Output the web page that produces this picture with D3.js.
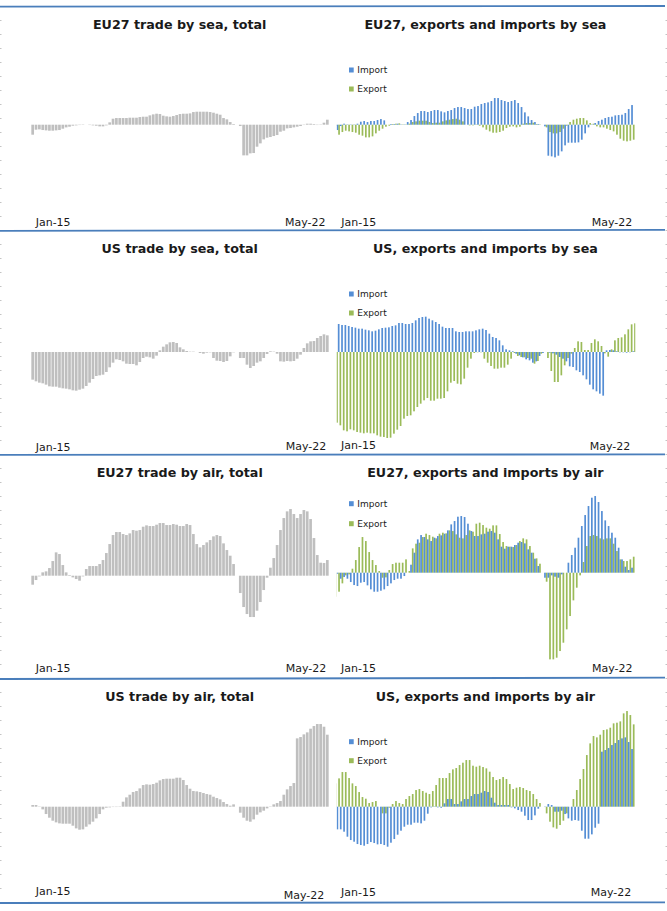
<!DOCTYPE html>
<html>
<head>
<meta charset="utf-8">
<script src="https://cdn.jsdelivr.net/npm/d3@7"></script>
<style>
body { margin: 0; background: #fff; }
svg { display: block; }
text { font-family: "DejaVu Sans", Verdana, sans-serif; }
</style>
</head>
<body>
<svg></svg>
<script>
const width = 667;
const height = 911;

const tickLabels = ['Jan-15', 'May-22'];
const legendLabels = ['Import', 'Export'];

const euSeaTotal = [
    -30, -15, -14, -16, -17, -18, -18, -17, -16, -12, -8, -6,
    -3, -2, -1, 1, 0, -1, -2, -3, -5, -5, -2, 7,
    18, 20, 20, 20, 20, 21, 21, 21, 23, 24, 24, 28,
    31, 33, 32, 27, 25, 24, 26, 29, 32, 33, 33, 34,
    38, 39, 39, 39, 39, 38, 36, 33, 30, 20, 16, 8,
    2, 0, -4, -92, -92, -86, -85, -66, -56, -44, -39, -37,
    -34, -31, -21, -18, -11, -10, -8, -6, -4, -1, 3, 3,
    2, -1, 1, 6, 15
];
const euSeaImport = [
    -16, -4, 3, 1, -1, -1, 3, 9, 11, 8, 11, 11,
    14, 17, 13, 0, 2, 2, 3, 1, 1, 8, 14, 26,
    35, 41, 41, 38, 41, 44, 44, 40, 37, 41, 44, 50,
    53, 53, 50, 47, 47, 54, 56, 62, 65, 67, 71, 80,
    80, 74, 71, 68, 71, 74, 65, 53, 37, 25, 14, 8,
    2, 0, -5, -93, -95, -98, -93, -80, -62, -54, -54, -54,
    -53, -45, -26, -8, 1, 5, 11, 15, 20, 23, 24, 28,
    29, 30, 35, 47, 59
];
const euSeaExport = [
    -3,
    -30, -22, -18, -20, -22, -24, -30, -33, -38, -38, -35, -26,
    -18, -12, -6, -3, 2, 3, 4, 1, 1, 3, 8, 10,
    12, 12, 12, 8, 5, 6, 6, 10, 13, 15, 17, 18,
    15, 10, 0, -2, -2, 1, -3, -8, -15, -20, -24, -24,
    -22, -18, -10, -6, -5, -8, -6, 3, 5, 5, 6, 2,
    1, 0, -8, -22, -26, -26, -22, -12, -3,
    8, 15, 18, 20, 20, 13, 5, 3, -5, -8, -8, -12, -16, -20, -30, -42, -48, -50, -48, -45
];

const usSeaTotal = [
    -83, -88, -92, -94, -98, -103, -104, -104, -107, -109, -110, -112,
    -115, -116, -113, -110, -102, -92, -81, -72, -70, -68, -60, -46,
    -32, -22, -24, -28, -35, -36, -36, -40, -30, -18, -14, -16,
    -20, -11, 5, 16, 23, 29, 30, 27, 14, 8, 3, 1,
    1, 0, -3, -5, -2, -1, -18, -26, -27, -30, -27, -13,
    -1, 0, -18, -18, -38, -48, -42, -32, -28, -18, -6, 2,
    1, -5, -28, -29, -27, -28, -27, -20, -8, 12, 26, 32,
    33, 42, 48, 53, 50
];
const usSeaImport = [
    84, 81, 81, 78, 75, 73, 70, 70, 67, 65, 62, 64,
    68, 72, 73, 74, 78, 80, 87, 87, 84, 84, 87, 95,
    102, 105, 106, 100, 95, 90, 84, 76, 72, 72, 72, 62,
    60, 60, 62, 62, 62, 65, 68, 70, 66, 55, 45, 42,
    35, 20, 8, 5, 2, -5, -10, -16, -22, -25, -32, -28,
    -12, -3, 0, -2, -4, -8, -15, -20, -28, -43, -45, -55,
    -60, -70, -82, -98, -112, -118, -125, -131, 5, 6, 5, 2,
    -1, -1, -2, -1, 2
];
const usSeaExport = [
    -212, -220, -235, -238, -232, -235, -240, -242, -244, -242, -244, -244,
    -250, -254, -255, -258, -257, -245, -233, -222, -200, -192, -190, -178,
    -165, -155, -145, -138, -146, -146, -140, -140, -138, -118, -92, -87,
    -95, -97, -80, -47, -20, -3, -1, -1, -20, -32, -42, -50,
    -50, -47, -47, -38, -20, -3, -12, -15, -16, -18, -20, -35,
    -27, -5, 0, -18, -57, -90, -90, -70, -40, -18, -5, 12,
    32, 30, 6, 6, 27, 38, 32, 18, -4, -14, 8, 35,
    42, 44, 53, 68, 83, 86
];

const euAirTotal = [
    -27, -13, -2, 10, 13, 23, 44, 70, 65, 32, 10, 2,
    -5, -10, -15, -2, 20, 29, 29, 29, 35, 47, 68, 95,
    122, 131, 131, 125, 122, 127, 137, 135, 137, 147, 151, 149,
    149, 153, 158, 158, 152, 152, 155, 153, 149, 149, 155, 152,
    125, 95, 85, 92, 100, 107, 118, 122, 119, 97, 77, 60,
    35, 0, -52, -94, -115, -124, -124, -105, -79, -43, -6, 24,
    53, 92, 137, 173, 193, 200, 185, 173, 185, 197, 193, 170,
    113, 62, 39, 38, 47
];
const euAirImport = [
    -3, -18, -13, -18, -28, -37, -40, -30, -28, -38, -50, -57,
    -57, -54, -50, -40, -32, -22, -18, -18, -10, 0, 24, 60,
    100, 113, 107, 100, 95, 105, 110, 112, 117, 127, 145, 155,
    168, 170, 167, 147, 125, 110, 110, 115, 117, 123, 125, 120,
    100, 78, 72, 78, 78, 83, 90, 92, 88, 70, 60, 42,
    20, 0, -15, -15, -8, -12, -15, -5, 0, 30, 53, 75,
    105, 140, 173, 200, 225, 230, 212, 185, 157, 140, 120, 105,
    75, 40, 18, 8, 15
];
const euAirExport = [
    -72, -57, -32, -8, -5, 12, 38, 77, 107, 95, 62, 38,
    23, 5, -15, -14, 8, 26, 30, 30, 30, 40, 5, 73,
    87, 90, 107, 117, 113, 108, 103, 117, 120, 118, 127, 125,
    115, 105, 103, 113, 127, 123, 147, 150, 143, 135, 132, 142,
    142, 116, 92, 80, 78, 77, 83, 95, 103, 100, 80, 60,
    43, 27, 0, -27, -260, -260, -255, -235, -210, -170, -130, -83,
    -45, -8, 32, 80, 110, 113, 110, 103, 100, 103, 103, 87,
    65, 40, 35, 35, 40, 48
];

const usAirTotal = [
    5, 5, 1, -8, -22, -33, -42, -47, -50, -51, -51, -51,
    -57, -65, -69, -68, -60, -53, -45, -35, -22, -8, -3, -2,
    -1, -1, 1, 15, 28, 36, 44, 47, 55, 65, 67, 66,
    68, 72, 79, 83, 84, 84, 84, 87, 87, 80, 65, 54,
    47, 46, 44, 41, 38, 36, 30, 26, 22, 14, 8, 3,
    7, 0, -18, -33, -42, -45, -38, -24, -17, -12, -5, 1,
    7, 11, 17, 36, 52, 62, 71, 205, 209, 217, 223, 234,
    242, 248, 248, 240, 216
];
const usAirImport = [
    -68, -68, -75, -90, -100, -105, -112, -115, -117, -112, -106, -109,
    -113, -112, -115, -120, -108, -97, -84, -72, -60, -54, -54, -48,
    -48, -50, -42, -21, -2, 1, -2, -3, 10, 23, 23, 8,
    8, 16, 23, 23, 32, 38, 38, 42, 47, 44, 27, 12,
    5, 5, 5, 5, -2, -5, -10, -15, -27, -40, -40, -26,
    -6, 0, -1, 8, 5, -15, -15, -12, -22, -35, -42, -40,
    -42, -72, -96, -96, -83, -63, -51, 165, 170, 176, 185, 191,
    200, 205, 208, 194, 173
];
const usAirExport = [
    70, 85, 104, 104, 86, 70, 62, 44, 29, 24, 11, 14,
    17, 0, -20, -20, -3, 8, 17, 11, 8, 23, 32, 38,
    50, 53, 47, 42, 38, 47, 65, 86, 86, 86, 101, 112,
    116, 125, 132, 140, 140, 123, 120, 123, 119, 115, 105, 89,
    80, 83, 89, 83, 68, 53, 57, 59, 56, 50, 47, 38,
    23, 11, 0, -20, -45, -62, -66, -55, -42, -20, 0, 23,
    50, 83, 113, 155, 190, 212, 208, 216, 230, 232, 237, 250,
    252, 256, 280, 287, 275, 247
];

const months = d3.timeMonth.range(new Date(2015, 0, 1), new Date(2022, 5, 1));

const svg = d3.select('svg')
    .attr('width', width)
    .attr('height', height);

const defs = svg.append('defs');

// gray "total" panels on the left
const totalPanels = [
    { title: 'EU27 trade by sea, total', values: euSeaTotal, zero: 124.7, titleY: 29, janY: 226, mayX: 285, mayY: 226 },
    { title: 'US trade by sea, total', values: usSeaTotal, zero: 352, titleY: 253, janY: 450.7, mayX: 285.7, mayY: 449.7 },
    { title: 'EU27 trade by air, total', values: euAirTotal, zero: 575.7, titleY: 476.7, janY: 672.3, mayX: 285.7, mayY: 672.3 },
    { title: 'US trade by air, total', values: usAirTotal, zero: 806.7, titleY: 700.7, janY: 895.3, mayX: 283.7, mayY: 898.7 }
];

// clustered panels on the right
const clusterPanels = [
    { title: 'EU27, exports and imports by sea', imports: euSeaImport, exports: euSeaExport, zero: 124.7, start: 335.7, titleY: 29, janX: 341.3, janY: 226, mayX: 591.7, mayY: 226, legendY: [70, 89] },
    { title: 'US, exports and imports by sea', imports: usSeaImport, exports: usSeaExport, zero: 352, start: 337, titleY: 253, janX: 341, janY: 448.7, mayX: 589.7, mayY: 449.7, legendY: [294, 313] },
    { title: 'EU27, exports and imports by air', imports: euAirImport, exports: euAirExport, zero: 572.7, start: 335.7, titleY: 476.7, janX: 341, janY: 671.7, mayX: 592, mayY: 671.7, legendY: [503.7, 523.7] },
    { title: 'US, exports and imports by air', imports: usAirImport, exports: usAirExport, zero: 806.7, start: 335.7, titleY: 700.7, janX: 341, janY: 896.3, mayX: 590.7, mayY: 896.3, legendY: [741.7, 760.7] }
];

const colors = { total: '#bfbfbf', Import: '#558ed5', Export: '#9bbb59' };
const slot = 298 / 89;
const barWidth = 1.7;

function yScaleFor(zero) {
    return d3.scaleLinear().domain([-300, 300]).range([zero + 100, zero - 100]);
}

function drawText(x, y, label, size, weight, anchor) {
    svg.append('text')
        .attr('x', x)
        .attr('y', y)
        .attr('font-size', size)
        .attr('font-weight', weight)
        .attr('text-anchor', anchor)
        .attr('fill', '#1a1a1a')
        .text(label);
}

// small gray ticks running down both edges of the page
const edgeScale = d3.scaleLinear().domain([0, height]).range([0, height]);
const edgeTicks = d3.range(20, 900, 14);
svg.append('g')
    .attr('transform', 'translate(1.5,0)')
    .call(d3.axisLeft(edgeScale).tickValues(edgeTicks).tickSize(1.5).tickFormat(''))
    .call(g => g.select('.domain').remove())
    .selectAll('line').attr('stroke', '#c4c4c4');
svg.append('g')
    .attr('transform', 'translate(665.5,0)')
    .call(d3.axisRight(edgeScale).tickValues(edgeTicks).tickSize(1.5).tickFormat(''))
    .call(g => g.select('.domain').remove())
    .selectAll('line').attr('stroke', '#c4c4c4');

totalPanels.forEach((panel) => {
    const x = d3.scaleBand().domain(months).range([31, 329]).paddingInner(0.2).paddingOuter(0.1);
    const y = yScaleFor(panel.zero);

    svg.append('g')
        .selectAll('rect')
        .data(panel.values)
        .join('rect')
        .attr('x', (d, i) => x(months[i]))
        .attr('width', x.bandwidth())
        .attr('y', d => y(Math.max(d, 0)))
        .attr('height', d => Math.abs(y(d) - y(0)))
        .attr('fill', colors.total);

    drawText(179.7, panel.titleY, panel.title, 12.7, 'bold', 'middle');
    drawText(35.7, panel.janY, tickLabels[0], 11, 'normal', 'start');
    drawText(panel.mayX, panel.mayY, tickLabels[1], 11, 'normal', 'start');
});

clusterPanels.forEach((panel, p) => {
    const x = d3.scaleLinear().domain([0, 89]).range([panel.start, panel.start + 89 * slot]);
    const y = yScaleFor(panel.zero);

    // export runs one point longer than import, its first bar is cut by the plot edge
    defs.append('clipPath')
        .attr('id', `plot-${p}`)
        .append('rect')
        .attr('x', 336.7)
        .attr('y', panel.zero - 110)
        .attr('width', 298.6)
        .attr('height', 220);

    const plot = svg.append('g').attr('clip-path', `url(#plot-${p})`);

    plot.append('g')
        .selectAll('rect')
        .data(panel.exports)
        .join('rect')
        .attr('x', (d, i) => x(i) - barWidth / 2)
        .attr('width', barWidth)
        .attr('y', d => y(Math.max(d, 0)))
        .attr('height', d => Math.abs(y(d) - y(0)))
        .attr('fill', colors.Export);

    plot.append('g')
        .selectAll('rect')
        .data(panel.imports)
        .join('rect')
        .attr('x', (d, i) => x(i + 0.5) - barWidth / 2)
        .attr('width', barWidth)
        .attr('y', d => y(Math.max(d, 0)))
        .attr('height', d => Math.abs(y(d) - y(0)))
        .attr('fill', colors.Import);

    drawText(485.4, panel.titleY, panel.title, 12.7, 'bold', 'middle');
    drawText(panel.janX, panel.janY, tickLabels[0], 11, 'normal', 'start');
    drawText(panel.mayX, panel.mayY, tickLabels[1], 11, 'normal', 'start');

    legendLabels.forEach((label, i) => {
        svg.append('rect')
            .attr('x', 349)
            .attr('y', panel.legendY[i] - 2.5)
            .attr('width', 4.7)
            .attr('height', 5)
            .attr('fill', colors[label]);
        drawText(357.3, panel.legendY[i] + 3, label, 9, 'normal', 'start');
    });
});

// blue rules between the rows
const ruleY = [[6.7, 6], [230.8, 229.8], [454.8, 454.4], [679, 677.7], [903, 902.3]];
svg.append('g')
    .selectAll('line')
    .data(ruleY)
    .join('line')
    .attr('x1', 0)
    .attr('x2', 665)
    .attr('y1', d => d[0])
    .attr('y2', d => d[1])
    .attr('stroke', '#4a7ebb')
    .attr('stroke-width', 1.8);
</script>
</body>
</html>
